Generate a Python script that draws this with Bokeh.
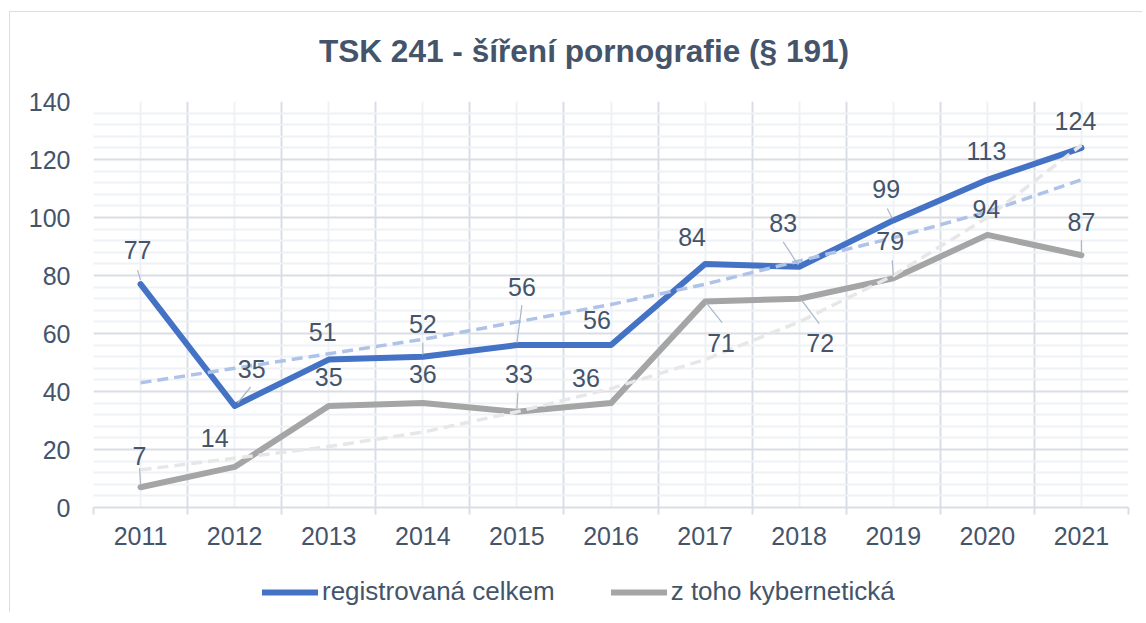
from bokeh.plotting import figure
from bokeh.layouts import column
from bokeh.models import Range1d, FixedTicker, Legend, LegendItem, ColumnDataSource
from bokeh.core.properties import value
from bokeh.embed import file_html
from bokeh.resources import INLINE

# ---- data ----
years = [2011, 2012, 2013, 2014, 2015, 2016, 2017, 2018, 2019, 2020, 2021]
registered = [77, 35, 51, 52, 56, 56, 84, 83, 99, 113, 124]
cyber = [7, 14, 35, 36, 33, 36, 71, 72, 79, 94, 87]
registered_trend = [43, 48, 53, 58, 64, 70, 77, 85, 93, 102, 113]
cyber_trend = [13, 17, 21, 26, 33, 41, 51, 64, 80, 100, 125]
y_ticks = [0, 20, 40, 60, 80, 100, 120, 140]
title_text = "TSK 241 - šíření pornografie (§ 191)"
series_names = ["registrovaná celkem", "z toho kybernetická"]

# ---- label placement (pixel offsets from points) ----
reg_dx = [-3, 17, -6, 0, 5, -14, -13, -16, -7, -1, -6]
reg_dy = [-34, -37, -28, -33, -58, -25, -27, -44, -31, -29, -27]
cyb_dx = [-1, -20, 0, 0, 2, -25, 16, 21, -3, -1, 0]
cyb_dy = [-31, -29, -29, -29, -38, -25, 41, 44, -37, -26, -33]
reg_leaders = {0: ((-3, -14), (0, -4)), 1: ((16, -19), (3, -3)), 3: ((0, -14), (0, -2)),
               4: ((5, -40), (0, -2)), 7: ((-16, -25), (-1, -2)), 8: ((-6, -12), (-1, -2))}
cyb_leaders = {0: ((-1, -19), (0, -3)), 4: ((1, -19), (0, -3)), 6: ((17, 21), (1, 1)),
               7: ((20, 25), (2, 1)), 8: ((-1, -18), (0, -3)), 10: ((0, -15), (0, -3))}

TEXT = "#44546A"
FONT = "Liberation Sans"
BLUE, GREY = "#4472C4", "#A5A5A5"
W = 1132
TH = 60                      # title strip height
H = 498                      # main chart height
FL, FR, FT, FB = 83, 14, 29, 63
FW = W - FL - FR
PX_X = FW / 11.0
PX_Y = (H - FT - FB) / 140.0

# ---- title strip ----
tp = figure(width=W, height=TH, output_backend="svg", toolbar_location=None,
            x_range=Range1d(0, FW), y_range=Range1d(0, TH),
            min_border_left=FL, min_border_right=FR, min_border_top=0, min_border_bottom=0,
            x_axis_location=None, y_axis_location=None)
tp.outline_line_color = None
tp.xgrid.visible = False
tp.ygrid.visible = False
tp.text(x=[FW / 2 - 27], y=[TH - 38], text=[title_text], text_align="center",
        text_baseline="middle", text_font=value(FONT), text_font_size="31.6px",
        text_font_style="bold", text_color=TEXT)

# ---- main chart ----
p = figure(width=W, height=H, output_backend="svg", toolbar_location=None,
           x_range=Range1d(years[0] - 0.5, years[-1] + 0.5), y_range=Range1d(0, 140),
           min_border_left=FL, min_border_right=FR, min_border_top=FT, min_border_bottom=FB)
p.outline_line_color = None
p.background_fill_color = "white"
p.border_fill_color = "white"

boundaries = [y - 0.5 for y in years] + [years[-1] + 0.5]
minor_y = [v for v in range(0, 141, 4) if v % 20 != 0]

# grids
p.xgrid.ticker = FixedTicker(ticks=boundaries, minor_ticks=years)
p.ygrid.ticker = FixedTicker(ticks=y_ticks, minor_ticks=minor_y)
for g in (p.xgrid[0], p.ygrid[0]):
    g.grid_line_color = "#D9DEE6"
    g.grid_line_width = 2
    g.minor_grid_line_color = "#EEF1F5"
    g.minor_grid_line_width = 2

# axes
xa = p.xaxis[0]
xa.ticker = FixedTicker(ticks=years, minor_ticks=boundaries)
xa.axis_line_color = "#D9DEE6"
xa.axis_line_width = 2
xa.major_tick_line_color = None
xa.major_tick_out = 0
xa.major_tick_in = 0
xa.minor_tick_line_color = "#D9DEE6"
xa.minor_tick_line_width = 2
xa.minor_tick_out = 7
xa.minor_tick_in = 0
xa.major_label_standoff = 12
xa.major_label_text_font = FONT
xa.major_label_text_font_size = "25px"
xa.major_label_text_color = TEXT

ya = p.yaxis[0]
ya.ticker = FixedTicker(ticks=y_ticks)
ya.axis_line_color = None
ya.major_tick_line_color = None
ya.minor_tick_line_color = None
ya.major_tick_out = 0
ya.major_tick_in = 0
ya.major_label_standoff = 23
ya.major_label_text_font = FONT
ya.major_label_text_font_size = "25px"
ya.major_label_text_color = TEXT

# series
p.line(years, registered, line_color=BLUE, line_width=6, line_join="round", line_cap="round")
p.line(years, cyber, line_color=GREY, line_width=6, line_join="round", line_cap="round")
# trend lines
p.line(years, registered_trend, line_color="#AFC3E8", line_width=3.5, line_dash="11 6")
p.line(years, cyber_trend, line_color="#E7E7E7", line_width=3.5, line_dash="11 6")

# leader lines
def leaders(vals, spec):
    x0, y0, x1, y1 = [], [], [], []
    for i, ((sx, sy), (ex, ey)) in spec.items():
        x0.append(years[i] + sx / PX_X); y0.append(vals[i] - sy / PX_Y)
        x1.append(years[i] + ex / PX_X); y1.append(vals[i] - ey / PX_Y)
    p.segment(x0, y0, x1, y1, line_color="#A9B7CA", line_width=1.2)

leaders(registered, reg_leaders)
leaders(cyber, cyb_leaders)

# data labels
def labels(vals, dx, dy):
    src = ColumnDataSource(dict(
        x=[years[i] + dx[i] / PX_X for i in range(len(years))],
        y=[vals[i] - dy[i] / PX_Y for i in range(len(years))],
        t=[str(v) for v in vals]))
    p.text("x", "y", text="t", source=src, text_align="center", text_baseline="middle",
           text_font=value(FONT), text_font_size="25px", text_color=TEXT)

labels(registered, reg_dx, reg_dy)
labels(cyber, cyb_dx, cyb_dy)

# ---- legend strip ----
LH = 42
q = figure(width=W, height=LH, output_backend="svg", toolbar_location=None,
           x_range=Range1d(0, 1), y_range=Range1d(0, 1),
           min_border_left=0, min_border_right=0, min_border_top=0, min_border_bottom=0,
           x_axis_location=None, y_axis_location=None)
q.outline_line_color = None
q.xgrid.visible = False
q.ygrid.visible = False
l1 = q.line(years, registered, line_color=BLUE, line_width=6, line_cap="round")
l2 = q.line(years, cyber, line_color=GREY, line_width=6, line_cap="round")
leg = Legend(items=[LegendItem(label=series_names[0], renderers=[l1]),
                    LegendItem(label=series_names[1], renderers=[l2])],
             location=(169, 5), orientation="horizontal",
             glyph_width=56, glyph_height=30, label_standoff=4, spacing=56,
             padding=0, margin=0, border_line_color=None, background_fill_alpha=0,
             label_text_font=FONT, label_text_font_size="26px", label_text_color=TEXT,
             label_height=30)
q.add_layout(leg, "center")

layout = column(tp, p, q, spacing=0)
layout.styles = {"margin-left": "9px", "margin-top": "11px",
                 "border-left": "1px solid #D9DEE6", "border-top": "1px solid #D9DEE6"}

open("out.html", "w").write(file_html(layout, INLINE))
